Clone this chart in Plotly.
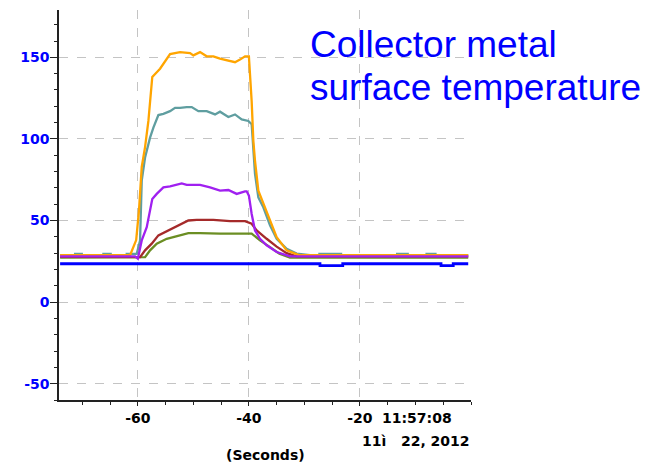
import plotly.graph_objects as go

# Collector metal surface temperature, seconds before 11:57:08
orange_t = [-74, -61.4, -60.3, -59.8, -59.3, -58.7, -58.1, -57.4, -56.0, -54.2, -52.4, -50.6, -50.0,
            -48.8, -47.6, -46.4, -45.2, -42.5, -41.6, -40.7, -40.0, -39.5, -39.2, -38.9, -38.3, -37.4,
            -36.2, -35.0, -33.2, -30.9, -0.5]
orange_v = [28.7, 28.7, 38, 56, 82.8, 95, 111, 138, 143, 152, 153.2, 152.6, 151.2,
            153.2, 150.6, 150.6, 149.2, 147, 148.6, 150.6, 150.6, 123, 98.8, 86.6, 68.3, 60.4,
            50, 39.8, 31.7, 28.7, 28.7]

teal_t = [-74, -71.3, -71.3, -70.1, -70.1, -66.2, -66.2, -64.9, -64.9, -62.0, -62.0, -60.2, -59.6,
          -59.3, -58.7, -57.8, -57.2, -56.3, -55.4, -54.2, -53.3, -52.4, -51.2, -50.3, -49.1, -47.6,
          -46.1, -45.2, -43.7, -42.5, -41.3, -40.1, -39.5, -39.2, -38.9, -38.3, -37.4, -36.2, -35.0,
          -33.2, -31.4, -29.0, -27.3, -27.3, -23.4, -23.4, -13.3, -13.3, -11.4, -11.4, -8.0, -8.0,
          -6.4, -6.4, -0.5]
teal_v = [28.7, 28.7, 29.6, 29.6, 28.7, 28.7, 29.6, 29.6, 28.7, 28.7, 29.6, 29.6, 37.8,
          74.4, 88.6, 100.8, 106.9, 114.6, 115.4, 117, 119, 119, 119.5, 119.5, 117, 117,
          115, 116.7, 113.4, 115, 112, 111, 109, 92.7, 78.6, 64.2, 58.1, 47, 38.8,
          32.7, 29.7, 28.7, 28.7, 29.6, 29.6, 28.7, 28.7, 29.6, 29.6, 28.7, 28.7, 29.6,
          29.6, 28.7, 28.7]

purple_t = [-74, -60.5, -60.0, -59.3, -58.4, -57.4, -56.6, -55.4, -54.2, -52.1, -51.2, -48.8, -47.0,
            -45.2, -43.7, -42.2, -40.7, -40.4, -40.0, -39.5, -38.9, -38.0, -36.8, -35.0, -32.6, -0.5]
purple_v = [28, 28, 26.6, 37.8, 45.9, 63.2, 66.3, 70.3, 70.9, 72.7, 71.8, 71.8, 70.3,
            68.3, 68.7, 66.3, 67.9, 67.9, 65.2, 54, 43.9, 38.8, 34.8, 30.7, 28, 28]

brown_t = [-74, -59.6, -58.7, -57.5, -56.3, -55.1, -53.6, -52.1, -50.9, -49.4, -46.4, -43.4, -40.7,
           -39.5, -38.6, -36.8, -35.0, -33.2, -31.4, -0.5]
brown_v = [27.8, 27.5, 31.7, 35.8, 40.9, 42.9, 45.9, 48.4, 50, 50.4, 50.4, 49.6, 49.6,
           48, 43.9, 38.8, 34, 30, 28, 28]

green_t = [-74, -59.0, -58.7, -57.8, -56.6, -54.8, -53.0, -50.9, -48.8, -45.2, -39.5, -38.3, -38.0,
           -36.2, -34.5, -32.6, -0.5]
green_v = [27.2, 27.2, 27.5, 31.7, 35.8, 38.8, 40.2, 42.3, 42.3, 42, 42, 38.8, 37.8,
           33.7, 29.7, 27.2, 27.2]

blue_t = [-74, -27.2, -27.2, -23.1, -23.1, -5.4, -5.4, -3.2, -3.2, -0.5]
blue_v = [23.5, 23.5, 22.4, 22.4, 23.5, 23.5, 22.4, 22.4, 23.5, 23.5]

x_ticks = [-60, -40, -20]
x_tick_text = ["-60", "-40", "-20"]
y_ticks = [-50, 0, 50, 100, 150]
y_tick_text = ["-50", "0", "50", "100", "150"]

series = [
    (blue_t, blue_v, "#0000FF", 2.8),
    (green_t, green_v, "#6B8E23", 2.3),
    (brown_t, brown_v, "#A52A2A", 2.3),
    (teal_t, teal_v, "#5F9EA0", 2.3),
    (orange_t, orange_v, "#FFA500", 2.3),
    (purple_t, purple_v, "#A020F0", 2.3),
]

fig = go.Figure()
for t, v, color, width in series:
    fig.add_trace(go.Scatter(x=t, y=v, mode="lines",
                             line=dict(color=color, width=width), showlegend=False))

tick_font = dict(family="DejaVu Sans", size=14, weight="bold")

fig.update_layout(
    width=658, height=462,
    margin=dict(l=59, r=187, t=10, b=62),
    paper_bgcolor="white", plot_bgcolor="white",
    xaxis=dict(
        range=[-74.2, 0], tickvals=x_ticks, ticktext=x_tick_text,
        showgrid=True, gridcolor="#c4c4c4", griddash="dash", gridwidth=1,
        zeroline=False, showline=True, linecolor="#222", linewidth=1.5,
        ticks="outside", ticklen=4, tickcolor="#222",
        minor=dict(tick0=0, dtick=5, ticks="outside", ticklen=3, tickcolor="#222", showgrid=False),
        tickfont=dict(color="black", **tick_font),
    ),
    yaxis=dict(
        range=[-60, 179], tickvals=y_ticks, ticktext=y_tick_text,
        showgrid=True, gridcolor="#c4c4c4", griddash="dash", gridwidth=1,
        zeroline=False, showline=True, linecolor="#222", linewidth=1.5,
        ticks="outside", ticklen=7, tickcolor="#222", ticklabelstandoff=-2,
        minor=dict(tick0=0, dtick=10, ticks="outside", ticklen=3, tickcolor="#222", showgrid=False),
        tickfont=dict(color="#0000FF", **tick_font),
    ),
)

annotations = [
    dict(text="Collector metal", x=0.607, y=0.912, xanchor="left", yanchor="middle",
         font=dict(family="Liberation Sans", size=37, color="#0000FF")),
    dict(text="surface temperature", x=0.607, y=0.801, xanchor="left", yanchor="middle",
         font=dict(family="Liberation Sans", size=37, color="#0000FF")),
    dict(text="11:57:08", x=0.956, y=-0.047, xanchor="right", yanchor="middle",
         font=dict(color="black", **tick_font)),
    dict(text="11ì\u00a0\u00a0\u00a022,\u00a02012", x=1.0, y=-0.104, xanchor="right", yanchor="middle",
         font=dict(color="black", **tick_font)),
    dict(text="(Seconds)", x=0.502, y=-0.140, xanchor="center", yanchor="middle",
         font=dict(color="black", **tick_font)),
]
for a in annotations:
    fig.add_annotation(xref="paper", yref="paper", showarrow=False, borderpad=0, **a)

fig.write_html("out.html")
